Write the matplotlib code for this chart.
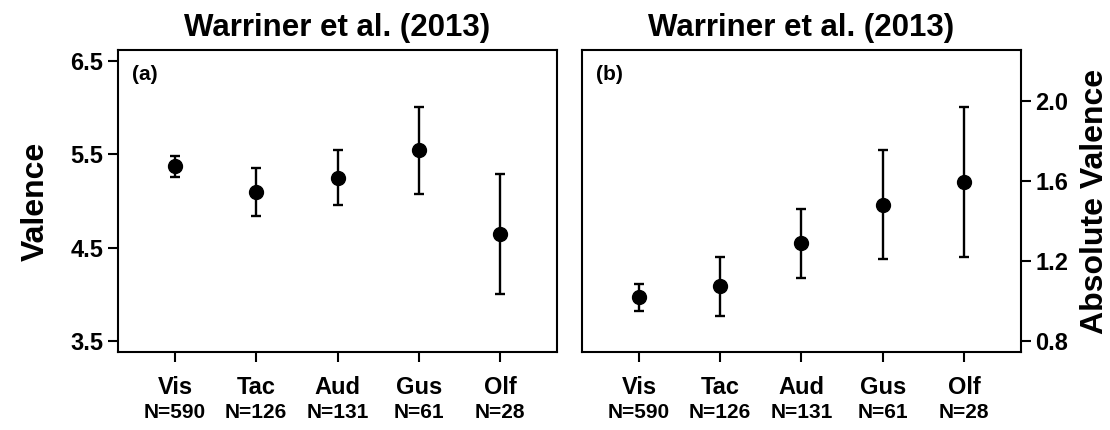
import numpy as np
import matplotlib.pyplot as plt
from matplotlib.transforms import blended_transform_factory

plt.rcParams['font.family'] = ['Liberation Sans', 'DejaVu Sans']
plt.rcParams['font.weight'] = 'bold'

# categories and sample sizes
cats = ['Vis', 'Tac', 'Aud', 'Gus', 'Olf']
n_words = [590, 126, 131, 61, 28]

# (a) valence: mean and CI bounds
val_mean = [5.375, 5.093, 5.25, 5.543, 4.646]
val_lo = [5.261, 4.843, 4.961, 5.079, 4.004]
val_hi = [5.486, 5.354, 5.55, 6.007, 5.286]

# (b) absolute valence: mean and CI bounds
abs_mean = [1.017, 1.072, 1.288, 1.482, 1.595]
abs_lo = [0.95, 0.923, 1.115, 1.21, 1.218]
abs_hi = [1.082, 1.22, 1.46, 1.757, 1.972]

val_ticks = [3.5, 4.5, 5.5, 6.5]
abs_ticks = [0.8, 1.2, 1.6, 2.0]

fig = plt.figure(figsize=(11.1, 4.3), dpi=100)
ax1 = fig.add_axes([118/1110, 78/430, 439/1110, 302/430])
ax2 = fig.add_axes([582/1110, 78/430, 439/1110, 302/430])

def panel(ax, mean, lo, hi, ticks, ylim, tag):
    x = np.arange(1, len(cats) + 1)
    mean = np.array(mean)
    yerr = [mean - np.array(lo), np.array(hi) - mean]
    ax.errorbar(x, mean, yerr=yerr, fmt='o', color='black', ms=10,
                elinewidth=1.7, capsize=3.8, capthick=1.7)
    ax.set_xlim(0.3, 5.7)
    ax.set_ylim(*ylim)
    ax.set_yticks(ticks)
    ax.set_yticklabels(['%.1f' % t for t in ticks])
    ax.set_xticks(x)
    ax.set_xticklabels(cats, fontweight='bold')
    ax.tick_params(axis='both', direction='out', length=7, width=1.5,
                   labelsize=17)
    ax.tick_params(axis='x', pad=10, labelsize=17)
    for s in ax.spines.values():
        s.set_linewidth(1.5)
    trans = blended_transform_factory(ax.transData, ax.transAxes)
    for xi, n in zip(x, n_words):
        ax.text(xi, -0.2, 'N=%d' % n, transform=trans, ha='center',
                va='center', fontsize=15, fontweight='bold')
    ax.text(0.033, 0.95, tag, transform=ax.transAxes, ha='left', va='top',
            fontsize=15, fontweight='bold')
    ax.set_title('Warriner et al. (2013)', fontsize=22.5, fontweight='bold',
                 pad=10)

panel(ax1, val_mean, val_lo, val_hi, val_ticks, (3.38, 6.62), '(a)')
panel(ax2, abs_mean, abs_lo, abs_hi, abs_ticks, (0.744, 2.256), '(b)')

ax1.set_ylabel('Valence', fontsize=23, fontweight='bold', labelpad=14)
ax2.yaxis.tick_right()
ax2.yaxis.set_label_position('right')
ax2.set_ylabel('Absolute Valence', fontsize=23, fontweight='bold',
               rotation=90, labelpad=8)

fig.savefig('out.png', dpi=100)
